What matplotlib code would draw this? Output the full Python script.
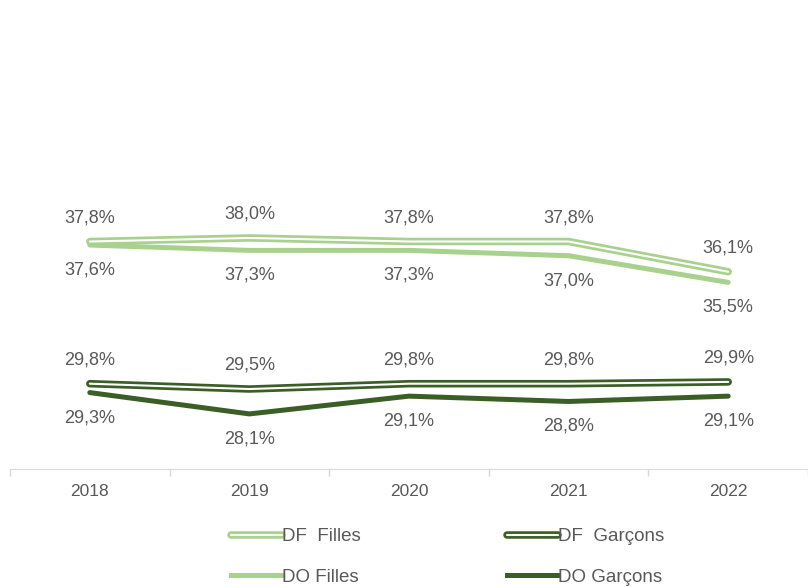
import matplotlib
matplotlib.use("Agg")
import matplotlib.pyplot as plt
from matplotlib.lines import Line2D
from matplotlib.legend_handler import HandlerTuple

plt.rcParams['font.family'] = ['Liberation Sans', 'DejaVu Sans']

years = ['2018', '2019', '2020', '2021', '2022']
df_filles = [37.8, 38.0, 37.8, 37.8, 36.1]
do_filles = [37.6, 37.3, 37.3, 37.0, 35.5]
df_garcons = [29.8, 29.5, 29.8, 29.8, 29.9]
do_garcons = [29.3, 28.1, 29.1, 28.8, 29.1]

light = '#a9d18e'
dark = '#3b5e27'
txt = '#595959'

fig = plt.figure(figsize=(8.08, 5.87), dpi=100)
ax = fig.add_axes([0.0124, 0.201, 0.9876, 0.757])
x = range(len(years))

def fmt(v):
    return f"{v:.1f}%".replace('.', ',')

# solid lines
ax.plot(x, do_filles, color=light, lw=3.6, solid_capstyle='round', zorder=2)
ax.plot(x, do_garcons, color=dark, lw=3.6, solid_capstyle='round', zorder=2)
# double (hollow) lines
for vals, c in [(df_filles, light), (df_garcons, dark)]:
    ax.plot(x, vals, color=c, lw=5.4, solid_capstyle='round', zorder=3)
    ax.plot(x, vals, color='white', lw=1.5, solid_capstyle='round', zorder=4)

for i in x:
    ax.annotate(fmt(df_filles[i]), (i, df_filles[i]), xytext=(0, 17), textcoords='offset points',
                ha='center', va='center', fontsize=13, color=txt)
    ax.annotate(fmt(do_filles[i]), (i, do_filles[i]), xytext=(0, -18), textcoords='offset points',
                ha='center', va='center', fontsize=13, color=txt)
    ax.annotate(fmt(df_garcons[i]), (i, df_garcons[i]), xytext=(0, 17), textcoords='offset points',
                ha='center', va='center', fontsize=13, color=txt)
    ax.annotate(fmt(do_garcons[i]), (i, do_garcons[i]), xytext=(0, -18), textcoords='offset points',
                ha='center', va='center', fontsize=13, color=txt)

ax.set_xlim(-0.5, len(years) - 0.5)
ax.set_ylim(25, 50)
ax.set_yticks([])
ax.set_xticks(list(x))
ax.set_xticklabels(years, fontsize=12.5, color=txt)
ax.set_xticks([i - 0.5 for i in range(len(years) + 1)], minor=True)
ax.tick_params(axis='x', which='major', length=0, pad=11)
ax.tick_params(axis='x', which='minor', length=5, color='#d9d9d9', width=1)
for s in ['top', 'right', 'left']:
    ax.spines[s].set_visible(False)
ax.spines['bottom'].set_color('#d9d9d9')

h_dff = (Line2D([], [], color=light, lw=5.4, solid_capstyle='round'),
         Line2D([], [], color='white', lw=1.5, solid_capstyle='round'))
h_dfg = (Line2D([], [], color=dark, lw=5.4, solid_capstyle='round'),
         Line2D([], [], color='white', lw=1.5, solid_capstyle='round'))
h_dof = Line2D([], [], color=light, lw=3.6)
h_dog = Line2D([], [], color=dark, lw=3.6)
fig.legend([h_dff, h_dof, h_dfg, h_dog], ['DF  Filles', 'DO Filles', 'DF  Garçons', 'DO Garçons'],
           handler_map={tuple: HandlerTuple(ndivide=1, pad=0)},
           loc='center', bbox_to_anchor=(0.554, 0.051), ncol=2, frameon=False,
           fontsize=13.5, labelcolor=txt, handlelength=2.67, handletextpad=0.0,
           columnspacing=7.85, labelspacing=1.25)

fig.savefig('out.png', dpi=100)
